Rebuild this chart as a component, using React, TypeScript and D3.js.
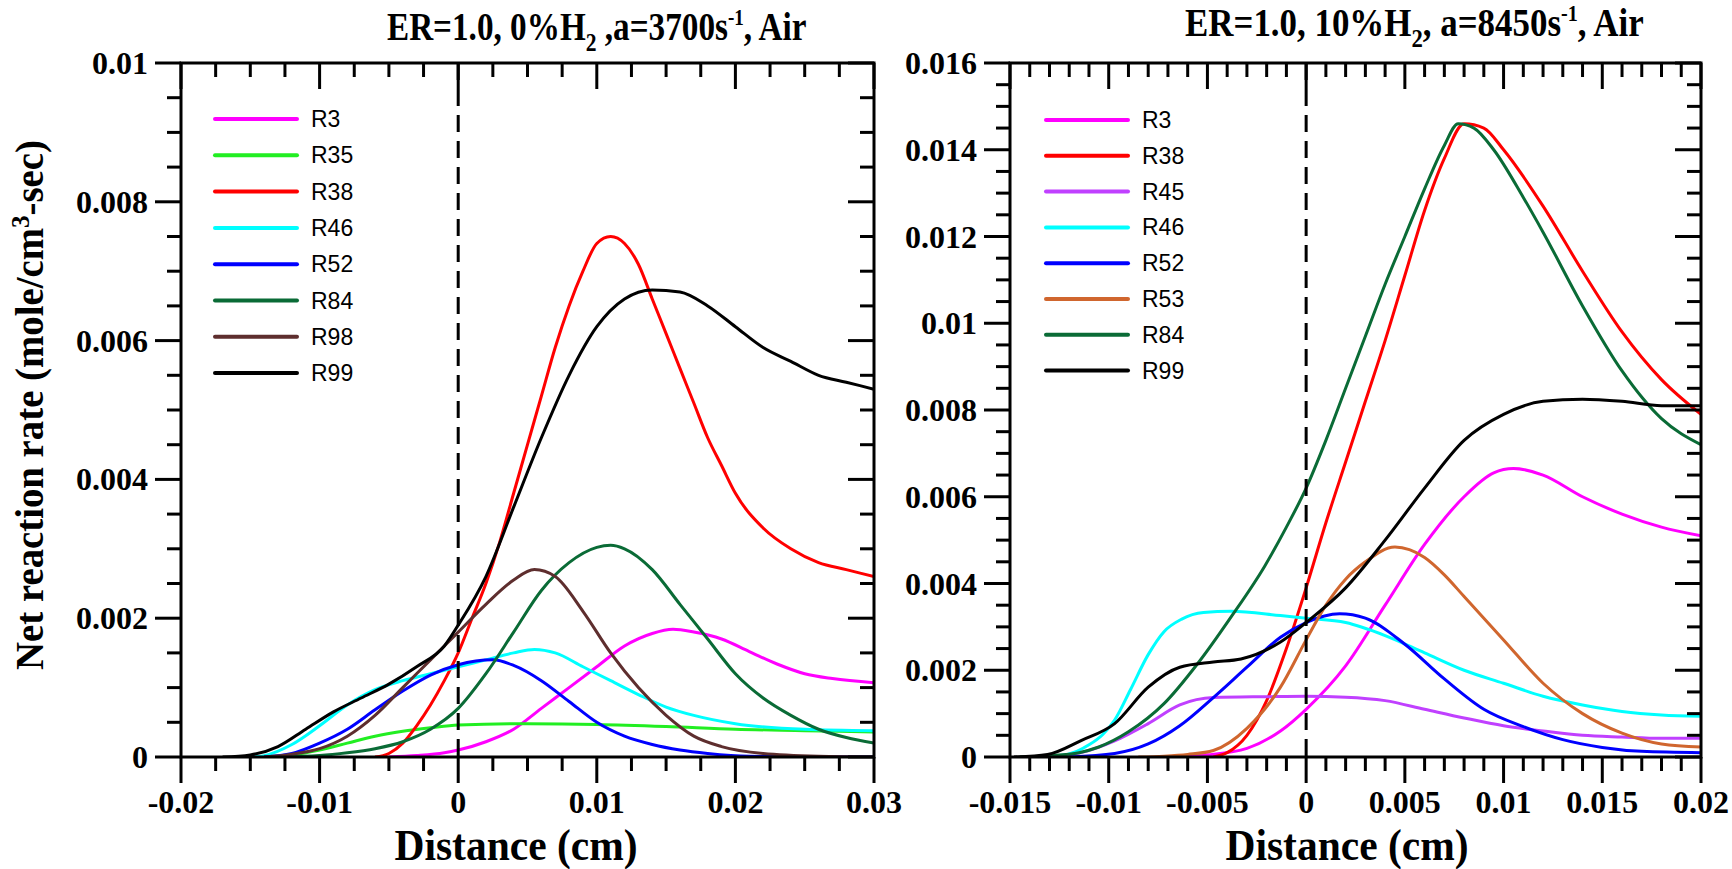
import React from "react";
import * as d3 from "d3";

type Pt = [number, number];

// ---- left panel: ER=1.0, 0%H2, a=3700 1/s ----
const leftXTicks = [-0.02, -0.01, 0, 0.01, 0.02, 0.03];
const leftYTicks = [0, 0.002, 0.004, 0.006, 0.008, 0.01];

const leftR3: Pt[] = [[-0.005, 0], [-0.003, 0.00002], [-0.001, 0.00006], [0, 0.0001], [0.002, 0.00022], [0.004, 0.0004], [0.006, 0.0007], [0.008, 0.001], [0.01, 0.0013], [0.012, 0.0016], [0.014, 0.00178], [0.0155, 0.00184], [0.017, 0.0018], [0.019, 0.0017], [0.021, 0.00152], [0.023, 0.00134], [0.025, 0.0012], [0.027, 0.00113], [0.03, 0.00107]];
const leftR35: Pt[] = [[-0.014, 0], [-0.012, 0.00003], [-0.01, 0.0001], [-0.008, 0.0002], [-0.006, 0.0003], [-0.004, 0.00037], [-0.002, 0.00042], [0, 0.00046], [0.005, 0.00048], [0.01, 0.00047], [0.015, 0.00044], [0.02, 0.0004], [0.025, 0.00038], [0.03, 0.00036]];
const leftR38: Pt[] = [[-0.006, 0], [-0.005, 0.00005], [-0.004, 0.0002], [-0.003, 0.00045], [-0.002, 0.00075], [-0.001, 0.0011], [0, 0.0015], [0.001, 0.002], [0.002, 0.0025], [0.003, 0.0031], [0.004, 0.0038], [0.005, 0.0045], [0.006, 0.0052], [0.007, 0.0059], [0.008, 0.0065], [0.009, 0.007], [0.01, 0.0074], [0.011, 0.0075], [0.012, 0.0074], [0.013, 0.0071], [0.014, 0.0066], [0.015, 0.0061], [0.016, 0.0056], [0.017, 0.0051], [0.018, 0.0046], [0.019, 0.0042], [0.02, 0.0038], [0.022, 0.0033], [0.024, 0.003], [0.026, 0.0028], [0.028, 0.0027], [0.03, 0.0026]];
const leftR46: Pt[] = [[-0.015, 0], [-0.014, 0.00002], [-0.012, 0.00018], [-0.01, 0.00045], [-0.008, 0.00075], [-0.006, 0.00097], [-0.004, 0.0011], [-0.002, 0.0012], [0, 0.0013], [0.002, 0.0014], [0.004, 0.0015], [0.0055, 0.00155], [0.007, 0.0015], [0.009, 0.0013], [0.011, 0.0011], [0.013, 0.0009], [0.015, 0.00072], [0.017, 0.0006], [0.02, 0.00048], [0.025, 0.0004], [0.03, 0.00038]];
const leftR52: Pt[] = [[-0.014, 0], [-0.012, 0.00005], [-0.01, 0.0002], [-0.008, 0.0004], [-0.006, 0.00068], [-0.004, 0.00095], [-0.002, 0.00118], [0, 0.00133], [0.0025, 0.0014], [0.004, 0.00132], [0.006, 0.0011], [0.008, 0.0008], [0.01, 0.0005], [0.012, 0.0003], [0.014, 0.00018], [0.016, 0.0001], [0.018, 0.00005], [0.021, 0.00001], [0.03, 0]];
const leftR84: Pt[] = [[-0.013, 0], [-0.01, 0.00002], [-0.008, 0.00006], [-0.006, 0.00012], [-0.004, 0.00022], [-0.002, 0.0004], [0, 0.0007], [0.002, 0.0012], [0.004, 0.0018], [0.006, 0.0024], [0.008, 0.0028], [0.01, 0.00302], [0.011, 0.00305], [0.012, 0.003], [0.014, 0.0027], [0.016, 0.0022], [0.018, 0.0017], [0.02, 0.0012], [0.022, 0.00085], [0.024, 0.0006], [0.026, 0.0004], [0.028, 0.00028], [0.03, 0.0002]];
const leftR98: Pt[] = [[-0.014, 0], [-0.012, 0.00004], [-0.01, 0.00012], [-0.008, 0.0003], [-0.006, 0.0006], [-0.004, 0.001], [-0.002, 0.0014], [0, 0.0018], [0.002, 0.0022], [0.004, 0.00255], [0.0055, 0.0027], [0.007, 0.0026], [0.009, 0.0021], [0.011, 0.0015], [0.013, 0.001], [0.015, 0.0006], [0.017, 0.0003], [0.019, 0.00015], [0.022, 0.00005], [0.026, 0.00001], [0.03, 0]];
const leftR99: Pt[] = [[-0.017, 0], [-0.015, 0.00003], [-0.013, 0.00015], [-0.011, 0.0004], [-0.009, 0.00065], [-0.007, 0.00085], [-0.005, 0.00105], [-0.003, 0.0013], [-0.001, 0.0016], [0, 0.0019], [0.002, 0.0026], [0.004, 0.0036], [0.006, 0.0046], [0.008, 0.0055], [0.01, 0.0062], [0.012, 0.0066], [0.014, 0.00673], [0.016, 0.0067], [0.018, 0.0065], [0.02, 0.0062], [0.022, 0.0059], [0.024, 0.0057], [0.026, 0.0055], [0.028, 0.0054], [0.03, 0.0053]];

// ---- right panel: ER=1.0, 10%H2, a=8450 1/s ----
const rightXTicks = [-0.015, -0.01, -0.005, 0, 0.005, 0.01, 0.015, 0.02];
const rightYTicks = [0, 0.002, 0.004, 0.006, 0.008, 0.01, 0.012, 0.014, 0.016];

const rightR3: Pt[] = [[-0.007, 0], [-0.005, 0.00005], [-0.003, 0.0002], [-0.0013, 0.0006], [0, 0.0011], [0.002, 0.0021], [0.004, 0.0035], [0.006, 0.0049], [0.008, 0.006], [0.0095, 0.00655], [0.0105, 0.00665], [0.012, 0.0065], [0.014, 0.006], [0.016, 0.0056], [0.018, 0.0053], [0.02, 0.0051]];
const rightR38: Pt[] = [[-0.0047, 0], [-0.004, 0.0001], [-0.003, 0.0005], [-0.002, 0.0013], [-0.001, 0.0025], [0, 0.0039], [0.001, 0.0054], [0.002, 0.0068], [0.003, 0.0082], [0.004, 0.0096], [0.005, 0.0111], [0.006, 0.0126], [0.007, 0.0138], [0.008, 0.0146], [0.009, 0.0145], [0.01, 0.014], [0.012, 0.0127], [0.014, 0.0112], [0.016, 0.0098], [0.018, 0.0087], [0.02, 0.0079]];
const rightR45: Pt[] = [[-0.013, 0], [-0.0114, 0.0001], [-0.0097, 0.00037], [-0.008, 0.00077], [-0.0064, 0.0012], [-0.0047, 0.00137], [-0.002, 0.00139], [0, 0.0014], [0.002, 0.00138], [0.004, 0.0013], [0.006, 0.0011], [0.008, 0.0009], [0.01, 0.00072], [0.012, 0.0006], [0.014, 0.0005], [0.016, 0.00046], [0.018, 0.00043], [0.02, 0.00043]];
const rightR46: Pt[] = [[-0.0135, 0], [-0.0121, 0.00006], [-0.011, 0.00028], [-0.0103, 0.00052], [-0.0097, 0.00085], [-0.0089, 0.00155], [-0.008, 0.00236], [-0.0072, 0.00289], [-0.0063, 0.00318], [-0.0052, 0.00333], [-0.0038, 0.00336], [-0.0013, 0.00326], [0, 0.0032], [0.002, 0.0031], [0.004, 0.0028], [0.006, 0.0024], [0.008, 0.002], [0.01, 0.0017], [0.012, 0.0014], [0.014, 0.0012], [0.016, 0.00105], [0.018, 0.00097], [0.02, 0.00094]];
const rightR52: Pt[] = [[-0.012, 0], [-0.0097, 0.00008], [-0.008, 0.0003], [-0.0064, 0.00072], [-0.0047, 0.00137], [-0.003, 0.00207], [-0.0013, 0.00276], [0, 0.0031], [0.0017, 0.0033], [0.003, 0.0032], [0.005, 0.0026], [0.007, 0.0018], [0.009, 0.0011], [0.011, 0.0007], [0.013, 0.0004], [0.015, 0.00022], [0.017, 0.00013], [0.02, 0.0001]];
const rightR53: Pt[] = [[-0.0085, 0], [-0.0072, 0.00002], [-0.006, 0.00006], [-0.0047, 0.00015], [-0.003, 0.00066], [-0.0013, 0.00161], [0, 0.0027], [0.001, 0.0035], [0.002, 0.0041], [0.003, 0.0045], [0.0045, 0.00484], [0.006, 0.0046], [0.007, 0.0042], [0.008, 0.0037], [0.01, 0.0027], [0.012, 0.0017], [0.014, 0.001], [0.016, 0.00055], [0.018, 0.0003], [0.02, 0.00023]];
const rightR84: Pt[] = [[-0.0145, 0], [-0.013, 0.00003], [-0.0115, 0.0001], [-0.0105, 0.00023], [-0.009, 0.00058], [-0.0072, 0.00123], [-0.0055, 0.00215], [-0.0038, 0.00323], [-0.0021, 0.0044], [-0.001, 0.0053], [0, 0.0062], [0.001, 0.0073], [0.002, 0.0085], [0.003, 0.0097], [0.004, 0.0109], [0.005, 0.012], [0.006, 0.0131], [0.007, 0.0141], [0.0077, 0.0146], [0.0085, 0.0145], [0.0095, 0.014], [0.011, 0.0129], [0.012, 0.0121], [0.014, 0.0104], [0.016, 0.0089], [0.018, 0.0078], [0.02, 0.0072]];
const rightR99: Pt[] = [[-0.0148, 0], [-0.0131, 0.00006], [-0.0114, 0.00038], [-0.0097, 0.00077], [-0.008, 0.00161], [-0.0064, 0.00207], [-0.0047, 0.00219], [-0.0033, 0.00226], [-0.0013, 0.00265], [0, 0.0031], [0.002, 0.0039], [0.004, 0.005], [0.006, 0.0062], [0.008, 0.0073], [0.01, 0.0079], [0.012, 0.0082], [0.014, 0.00825], [0.016, 0.0082], [0.018, 0.0081], [0.02, 0.0081]];

const C = {
  R3: "#ff00ff", R35: "#22ee22", R38: "#ff0000", R45: "#c040ff", R46: "#00ffff",
  R52: "#0000ff", R53: "#d0662e", R84: "#0a6b36", R98: "#5e2e2e", R99: "#000000",
};

const leftSeries = [
  { name: "R3", pts: leftR3 }, { name: "R35", pts: leftR35 }, { name: "R38", pts: leftR38 },
  { name: "R46", pts: leftR46 }, { name: "R52", pts: leftR52 }, { name: "R84", pts: leftR84 },
  { name: "R98", pts: leftR98 }, { name: "R99", pts: leftR99 },
];
const rightSeries = [
  { name: "R3", pts: rightR3 }, { name: "R38", pts: rightR38 }, { name: "R45", pts: rightR45 },
  { name: "R46", pts: rightR46 }, { name: "R52", pts: rightR52 }, { name: "R53", pts: rightR53 },
  { name: "R84", pts: rightR84 }, { name: "R99", pts: rightR99 },
];

const serif = "'Liberation Serif', 'Times New Roman', serif";
const sans = "'Liberation Sans', Arial, sans-serif";
const fmt = (v: number) => String(+v.toFixed(4));

function Panel(p: any) {
  const { id, left, right, top, bottom, xTicks, yTicks, xMinor, yMinor, series, legend } = p;
  const xd = [xTicks[0], xTicks[xTicks.length - 1]];
  const yd = [yTicks[0], yTicks[yTicks.length - 1]];
  const x = d3.scaleLinear().domain(xd).range([left, right]);
  const y = d3.scaleLinear().domain(yd).range([bottom, top]);
  const line = d3.line<Pt>().x(d => x(d[0])).y(d => y(d[1])).curve(d3.curveMonotoneX);
  const xm = d3.range(Math.round((xd[1] - xd[0]) / xMinor) + 1).map(i => xd[0] + i * xMinor);
  const ym = d3.range(Math.round((yd[1] - yd[0]) / yMinor) + 1).map(i => yd[0] + i * yMinor);
  const isMajor = (v: number, arr: number[]) => arr.some(t => Math.abs(t - v) < 1e-9);
  const MAJ = 26, MIN = 14;

  return (
    <g>
      <defs>
        <clipPath id={id}>
          <rect x={left} y={top} width={right - left} height={bottom - top} />
        </clipPath>
      </defs>
      <g clipPath={`url(#${id})`}>
        {series.map((s: any) => (
          <path key={s.name} d={line(s.pts) || ""} fill="none" stroke={(C as any)[s.name]} strokeWidth={3} strokeLinejoin="round" />
        ))}
      </g>
      <line x1={x(0)} x2={x(0)} y1={top} y2={bottom} stroke="#000" strokeWidth={3} strokeDasharray="17 9" />
      {/* ticks */}
      <g stroke="#000" strokeWidth={3}>
        {xm.map((v, i) => {
          const L = isMajor(v, xTicks) ? MAJ : MIN;
          return (
            <g key={"x" + i}>
              <line x1={x(v)} x2={x(v)} y1={bottom} y2={bottom + L} />
              <line x1={x(v)} x2={x(v)} y1={top} y2={top + L} />
            </g>
          );
        })}
        {ym.map((v, i) => {
          const L = isMajor(v, yTicks) ? MAJ : MIN;
          return (
            <g key={"y" + i}>
              <line x1={left - L} x2={left} y1={y(v)} y2={y(v)} />
              <line x1={right - L} x2={right} y1={y(v)} y2={y(v)} />
            </g>
          );
        })}
      </g>
      <rect x={left} y={top} width={right - left} height={bottom - top} fill="none" stroke="#000" strokeWidth={3} />
      {/* tick labels */}
      <g fontFamily={serif} fontWeight="bold" fontSize={32} fill="#000">
        {xTicks.map((v: number) => (
          <text key={"xl" + v} x={x(v)} y={bottom + 56} textAnchor="middle">{fmt(v)}</text>
        ))}
        {yTicks.map((v: number) => (
          <text key={"yl" + v} x={left - 33} y={y(v)} textAnchor="end" dominantBaseline="central">{fmt(v)}</text>
        ))}
      </g>
      {/* legend */}
      <g fontFamily={sans} fontSize={23} fill="#000">
        {series.map((s: any, i: number) => {
          const ly = legend.y + i * legend.step;
          return (
            <g key={"lg" + s.name}>
              <line x1={legend.x} x2={legend.x + 82} y1={ly} y2={ly} stroke={(C as any)[s.name]} strokeWidth={4} strokeLinecap="round" />
              <text x={legend.x + 96} y={ly} dominantBaseline="central">{s.name}</text>
            </g>
          );
        })}
      </g>
      {/* x axis title */}
      <text x={p.xLabelX} y={860} textAnchor="middle" fontFamily={serif} fontWeight="bold" fontSize={45}
        textLength={243} lengthAdjust="spacingAndGlyphs">Distance (cm)</text>
    </g>
  );
}

export default function App() {
  return (
    <svg width={1732} height={869} style={{ position: "absolute", left: 0, top: 0, background: "#fff" }}>
      <rect width={1732} height={869} fill="#fff" />
      <Panel id="clipL" left={181} right={874} top={63} bottom={757} xTicks={leftXTicks} yTicks={leftYTicks}
        xMinor={0.0025} yMinor={0.0005} series={leftSeries} legend={{ x: 215, y: 119, step: 36.3 }} xLabelX={516} />
      <Panel id="clipR" left={1010} right={1701} top={63} bottom={757} xTicks={rightXTicks} yTicks={rightYTicks}
        xMinor={0.001} yMinor={0.0005} series={rightSeries} legend={{ x: 1046, y: 120, step: 35.8 }} xLabelX={1347} />

      <g fontFamily={serif} fontWeight="bold" fill="#000">
        {/* titles: tall, condensed bold serif */}
        <g transform="translate(387,40) scale(0.83,1)">
          <text x={0} y={0} fontSize={40}>
            ER=1.0, 0%H<tspan fontSize={26} dy={11}>2</tspan><tspan dy={-11}> ,a=3700s</tspan><tspan fontSize={23} dy={-15}>-1</tspan><tspan dy={15}>, Air</tspan>
          </text>
        </g>
        <g transform="translate(1185,36) scale(0.873,1)">
          <text x={0} y={0} fontSize={40}>
            ER=1.0, 10%H<tspan fontSize={26} dy={11}>2</tspan><tspan dy={-11}>, a=8450s</tspan><tspan fontSize={23} dy={-15}>-1</tspan><tspan dy={15}>, Air</tspan>
          </text>
        </g>
        <g transform="translate(43,405) rotate(-90) scale(0.97,1)">
          <text x={0} y={0} textAnchor="middle" fontSize={40}>
            Net reaction rate (mole/cm<tspan fontSize={26} dy={-14}>3</tspan><tspan dy={14}>-sec)</tspan>
          </text>
        </g>
      </g>
    </svg>
  );
}
